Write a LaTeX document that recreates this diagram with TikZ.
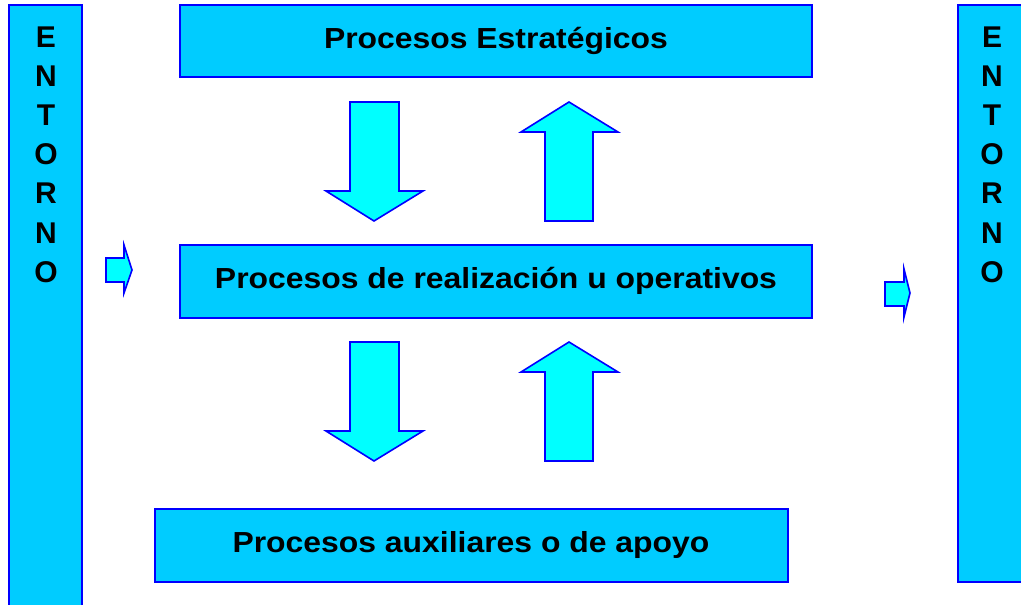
\documentclass[tikz,border=0pt]{standalone}
\usepackage{fontspec}
\setmainfont{Liberation Sans}
\usepackage{xcolor}
\usetikzlibrary{positioning}

\definecolor{boxfill}{HTML}{00CCFF}
\definecolor{arrowfill}{HTML}{00FFFF}

\tikzset{
  procbox/.style={fill=boxfill, draw=blue, line width=2pt},
  blockarrow/.style={fill=arrowfill, draw=blue, line width=1.6pt, line join=miter},
  boxtext/.style={font=\fontsize{29}{34}\selectfont\bfseries, inner sep=0pt, anchor=base, xscale=1.1},
  lettertext/.style={font=\fontsize{30}{34}\selectfont\bfseries, inner sep=0pt, anchor=base}
}

\begin{document}
\begin{tikzpicture}[x=1pt, y=-1pt]
    \useasboundingbox (0,0) rectangle (1021,605);

    % entorno left and right
    \draw [procbox] (9,5) rectangle (82,610);
    \draw [procbox] (958,5) rectangle (1031,582);
    \foreach \l [count=\i from 0] in {E,N,T,O,R,N,O} {
      \node [lettertext] (EL\i) at (46, 47+39.2*\i) {\l};
      \node [lettertext] (ER\i) at (992, 47+39.2*\i) {\l};
    }

    % process boxes
    \draw [procbox] (180,5) rectangle (812,77);
    \node [boxtext] (PE) at (496,48) {Procesos Estratégicos};

    \draw [procbox] (180,245) rectangle (812,318);
    \node [boxtext] (PR) at (496,288) {Procesos de realización u operativos};

    \draw [procbox] (155,509) rectangle (788,582);
    \node [boxtext] (PA) at (471,552) {Procesos auxiliares o de apoyo};

    % arrows between boxes
    \draw [blockarrow] (350,102) -- (399,102) -- (399,191) -- (423,191) -- (374,221)
      -- (326,191) -- (350,191) -- cycle;
    \draw [blockarrow] (569,102) -- (618,132) -- (593,132) -- (593,221) -- (545,221)
      -- (545,132) -- (521,132) -- cycle;
    \draw [blockarrow] (350,342) -- (399,342) -- (399,431) -- (423,431) -- (374,461)
      -- (326,431) -- (350,431) -- cycle;
    \draw [blockarrow] (569,342) -- (618,372) -- (593,372) -- (593,461) -- (545,461)
      -- (545,372) -- (521,372) -- cycle;

    % small arrows
    \draw [blockarrow] (106,258) -- (124,258) -- (124,245) -- (132,270) -- (124,293)
      -- (124,282) -- (106,282) -- cycle;
    \draw [blockarrow] (885,282) -- (904,282) -- (904,269) -- (910,293) -- (904,317)
      -- (904,306) -- (885,306) -- cycle;
\end{tikzpicture}
\end{document}
